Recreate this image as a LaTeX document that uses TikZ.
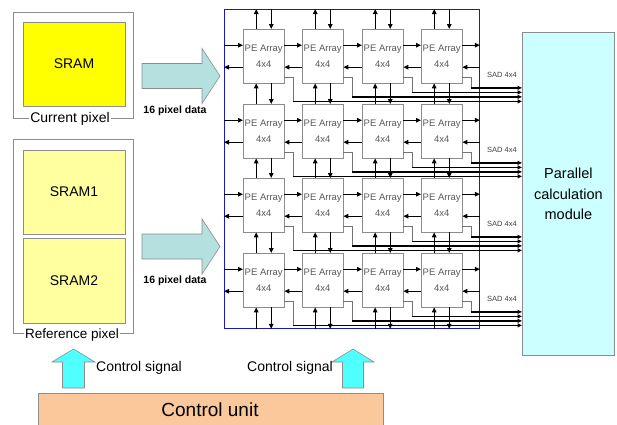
\documentclass[tikz,border=0pt]{standalone}
\usepackage{fontspec}
\setmainfont{Liberation Sans}
\usetikzlibrary{arrows.meta,calc}
\definecolor{sramY}{RGB}{255,255,0}
\definecolor{sramL}{RGB}{255,255,160}
\definecolor{frameG}{RGB}{140,140,140}
\definecolor{bigArr}{RGB}{180,224,224}
\definecolor{ctrlArr}{RGB}{80,255,255}
\definecolor{cuFill}{RGB}{250,200,155}
\definecolor{pcmFill}{RGB}{204,255,255}
\definecolor{gridBlue}{RGB}{25,25,190}
\tikzset{
  fs/.style={font=\fontsize{#1}{#1}\selectfont},
  pebox/.style={draw=frameG, fill=white, minimum width=41pt, minimum height=54pt,
    inner sep=0pt, align=center, text=black!65, font=\fontsize{9.5}{16}\selectfont, anchor=north west},
  sram/.style={draw=frameG, line width=0.8pt, inner sep=0pt, font=\fontsize{14}{14}\selectfont},
  outframe/.style={draw=frameG, line width=0.8pt, inner sep=0pt, anchor=north west},
  arr/.style={-{Triangle[length=5pt,width=4.5pt]}, line width=1.3pt},
  sadstep/.style={draw=black!55, line width=0.8pt},
  sadbus/.style={-{Triangle[length=4.5pt,width=4pt]}, line width=1.2pt},
  bigarrow/.style={draw=frameG, fill=bigArr, line width=0.6pt},
  ctrlarrow/.style={draw=frameG, fill=ctrlArr, line width=0.6pt},
}
\begin{document}
\begin{tikzpicture}[x=1pt,y=-1pt]
\path[use as bounding box, clip] (0,0) rectangle (617,424);
\fill[white] (0,0) rectangle (617,424);

% ---- left memories
\node[outframe, minimum width=120pt, minimum height=106pt] (curframe) at (13,12) {};
\node[sram, fill=sramY, minimum width=102pt, minimum height=84pt] (sram) at (74,64) {SRAM};
\node[fill=white, inner sep=1.5pt, fs=14] (curlab) at (70,119) {Current pixel};

\node[outframe, minimum width=120pt, minimum height=194pt] (refframe) at (13,139) {};
\node[sram, fill=sramL, minimum width=102pt, minimum height=84pt] (sram1) at (74,192) {SRAM1};
\node[sram, fill=sramL, minimum width=102pt, minimum height=85pt] (sram2) at (74,280.5) {SRAM2};
\node[fill=white, inner sep=1.5pt, fs=13.5] (reflab) at (72,335) {Reference pixel};

% ---- data arrows
\draw[bigarrow] (142,63.5) -- (202,63.5) -- (202,48.5) -- (220,76) -- (202,103.5) -- (202,88.5) -- (142,88.5) -- cycle;
\node[font=\bfseries\fontsize{10.5}{10.5}\selectfont] (d1) at (175,111) {16 pixel data};
\draw[bigarrow] (142,234) -- (202,234) -- (202,219) -- (220,246.5) -- (202,274) -- (202,259) -- (142,259) -- cycle;
\node[font=\bfseries\fontsize{10.5}{10.5}\selectfont] (d2) at (175,281) {16 pixel data};

% ---- PE grid
\node[draw=gridBlue, line width=0.9pt, minimum width=255pt, minimum height=319pt, inner sep=0pt, anchor=north west] (grid) at (224,9) {};
\foreach \r/\y in {1/29,2/104,3/178,4/253}{
  \foreach \c/\x in {1/243,2/302,3/362,4/421}{
    \node[pebox] (pe-\r-\c) at (\x,\y) {PE Array\\4x4};
  }
}

% SAD outputs to parallel module
\node[draw=frameG, fill=pcmFill, line width=0.8pt, minimum width=92pt, minimum height=323pt, inner sep=0pt,
  anchor=north west, align=center, font=\fontsize{14.5}{20.5}\selectfont] (pcm) at (522,32) {Parallel\\calculation\\module};

\foreach \r in {1,...,4}{
  \foreach \c/\d in {1/18,2/13.5,3/9,4/4.5}{
    \draw[sadstep] ($(pe-\r-\c.south east)+(0,-6)$) -| ($(pe-\r-\c.south east)+(9,\d)$);
    \draw[sadbus] ($(pe-\r-\c.south east)+(9,\d)$) -- ($(pcm.west |- pe-\r-\c.south east)+(0,\d)$);
  }
  \node[text=black!75, inner sep=0pt, font=\fontsize{7.5}{7.5}\selectfont] (sad-\r) at ($(grid.east |- pe-\r-4.south)+(22,-8)$) {SAD 4x4};
}

% horizontal arrows
\foreach \r in {1,...,4}{
  \draw[arr] ($(grid.west |- pe-\r-1.west)+(0,-11)$) -- ($(pe-\r-1.west)+(0,-11)$);
  \draw[arr] ($(pe-\r-1.west)+(0,11)$) -- ($(grid.west |- pe-\r-1.west)+(0,11)$);
  \foreach \c in {1,2,3}{
    \pgfmathtruncatemacro\n{\c+1}
    \draw[arr] ($(pe-\r-\c.east)+(0,-11)$) -- ($(pe-\r-\n.west)+(0,-11)$);
    \draw[arr] ($(pe-\r-\n.west)+(0,11)$) -- ($(pe-\r-\c.east)+(0,11)$);
  }
  \draw[arr] ($(pe-\r-4.east)+(0,-11)$) -- ($(grid.east |- pe-\r-4.east)+(0,-11)$);
  \draw[arr] ($(grid.east |- pe-\r-4.east)+(0,11)$) -- ($(pe-\r-4.east)+(0,11)$);
}
% vertical arrows
\foreach \c in {1,...,4}{
  \draw[arr] ($(pe-1-\c.north)+(-7.5,0)$) -- ($(pe-1-\c.north |- grid.north)+(-7.5,0)$);
  \draw[arr] ($(pe-1-\c.north |- grid.north)+(7.5,0)$) -- ($(pe-1-\c.north)+(7.5,0)$);
  \foreach \r in {1,2,3}{
    \pgfmathtruncatemacro\n{\r+1}
    \draw[arr] ($(pe-\n-\c.north)+(-7.5,0)$) -- ($(pe-\r-\c.south)+(-7.5,0)$);
    \draw[arr] ($(pe-\r-\c.south)+(7.5,0)$) -- ($(pe-\n-\c.north)+(7.5,0)$);
  }
  \draw[arr] ($(pe-4-\c.south |- grid.south)+(-7.5,0)$) -- ($(pe-4-\c.south)+(-7.5,0)$);
  \draw[arr] ($(pe-4-\c.south)+(7.5,0)$) -- ($(pe-4-\c.south |- grid.south)+(7.5,0)$);
}

% ---- control
\draw[ctrlarrow] (62.5,388) -- (62.5,362) -- (52,362) -- (73.5,349) -- (95,362) -- (84.5,362) -- (84.5,388) -- cycle;
\draw[ctrlarrow] (342.5,388) -- (342.5,362) -- (332,362) -- (353,349) -- (374,362) -- (363.5,362) -- (363.5,388) -- cycle;
\node[anchor=west, inner sep=0pt, fs=14] (cs1) at (96,368) {Control signal};
\node[anchor=east, inner sep=0pt, fs=14] (cs2) at (333,368) {Control signal};
\node[draw=frameG, fill=cuFill, line width=0.8pt, minimum width=345pt, minimum height=40pt, inner sep=0pt, anchor=north west] (cu) at (38,393) {};
\node[inner sep=0pt, fs=19] (cutext) at (210,410) {Control unit};
\end{tikzpicture}
\end{document}
